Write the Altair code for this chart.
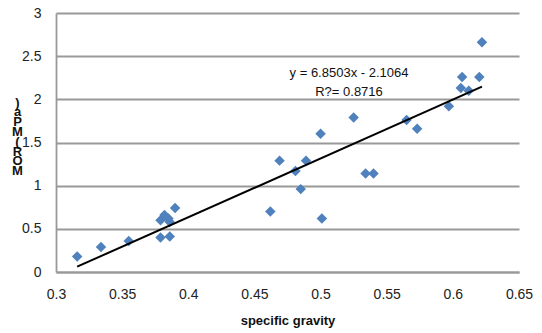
import altair as alt
import pandas as pd

# data
gravity = [0.316, 0.334, 0.355, 0.379, 0.382, 0.385, 0.386, 0.379, 0.386, 0.390,
           0.462, 0.469, 0.481, 0.485, 0.489, 0.500, 0.501, 0.525, 0.534, 0.540,
           0.565, 0.573, 0.597, 0.606, 0.607, 0.612, 0.620, 0.622]
mor = [0.18, 0.29, 0.36, 0.60, 0.66, 0.62, 0.58, 0.40, 0.41, 0.74,
       0.70, 1.29, 1.17, 0.96, 1.29, 1.60, 0.62, 1.79, 1.14, 1.14,
       1.76, 1.66, 1.92, 2.13, 2.26, 2.10, 2.26, 2.66]

eq_text = ["y = 6.8503x - 2.1064", "R?= 0.8716"]
eq_x = [0.5215, 0.5215]
eq_y = [2.31, 2.09]

x_ticks = [0.3, 0.35, 0.4, 0.45, 0.5, 0.55, 0.6, 0.65]
y_ticks = [0, 0.5, 1, 1.5, 2, 2.5, 3]
y_title = [")", "a", "P", "M", "(", "R", "O", "M"]

df = pd.DataFrame({"g": gravity, "m": mor})
eq = pd.DataFrame({"t": eq_text, "x": eq_x, "y": eq_y})

FONT = "Liberation Sans"

xenc = alt.X("g:Q", scale=alt.Scale(domain=[0.3, 0.65], nice=False, zero=False),
             axis=alt.Axis(values=x_ticks, format=".2~f", title="specific gravity",
                           grid=False, ticks=False, labelPadding=15, labelFlush=False,
                           labelFont=FONT, labelFontSize=14, labelColor="#222",
                           domainColor="#999", domainWidth=1.8,
                           titleFont=FONT, titleFontSize=13, titleFontWeight="bold",
                           titleColor="#111", titleBaseline="alphabetic", titleY=52))
yenc = alt.Y("m:Q", scale=alt.Scale(domain=[0, 3], nice=False),
             axis=alt.Axis(values=y_ticks, format=".1~f", title=y_title,
                           grid=True, gridColor="#999", gridWidth=1.8,
                           ticks=False, labelPadding=15, labelFlush=False,
                           labelFont=FONT, labelFontSize=14, labelColor="#222",
                           domainColor="#999", domainWidth=1.8,
                           titleFont=FONT, titleFontSize=13, titleFontWeight="bold",
                           titleColor="#111", titleAngle=0, titleAlign="center",
                           titleBaseline="top", titleX=-39, titleY=83,
                           titleLineHeight=9.8))

points = alt.Chart(df).mark_point(shape="diamond", filled=True, size=110,
                                  color="#4F81BD", opacity=1).encode(x=xenc, y=yenc)

trend = alt.Chart(df).transform_regression("g", "m").mark_line(
    color="#000", strokeWidth=2).encode(x="g:Q", y="m:Q")

label = alt.Chart(eq).mark_text(font=FONT, fontSize=13, color="#111",
                                align="center", baseline="middle").encode(
    x="x:Q", y="y:Q", text="t:N")

chart = alt.layer(points, trend, label).properties(
    width=463, height=259,
    autosize=alt.AutoSizeParams(type="none"),
    padding={"left": 48, "top": 5, "right": 15, "bottom": 56},
).configure_view(stroke=None)

chart.save("out.html", embed_options={"renderer": "svg", "actions": False})
